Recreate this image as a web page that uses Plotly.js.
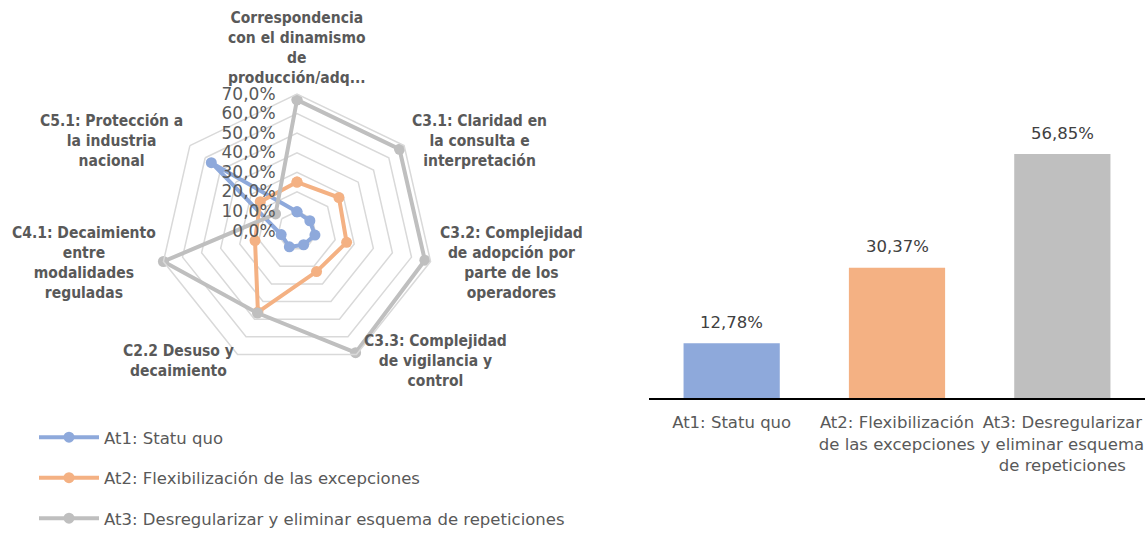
<!DOCTYPE html>
<html>
<head>
<meta charset="utf-8">
<script src="https://cdn.plot.ly/plotly-3.0.1.min.js"></script>
<style>html,body{margin:0;padding:0;background:#fff}#chart{width:1147px;height:534px}</style>
</head>
<body>
<div id="chart"></div>
<script>
// ---- data ----
var criteria = [
  "Correspondencia<br>con el dinamismo<br>de<br>producción/adq...",
  "C3.1: Claridad en<br>la consulta e<br>interpretación",
  "C3.2: Complejidad<br>de adopción por<br>parte de los<br>operadores",
  "C3.3: Complejidad<br>de vigilancia y<br>control",
  "C2.2 Desuso y<br>decaimiento",
  "C4.1: Decaimiento<br>entre<br>modalidades<br>reguladas",
  "C5.1: Protección a<br>la industria<br>nacional"
];
var criteriaKeys = ["C1", "C3.1", "C3.2", "C3.3", "C2.2", "C4.1", "C5.1"];
var seriesNames = ["At1: Statu quo", "At2: Flexibilización de las excepciones", "At3: Desregularizar y eliminar esquema de repeticiones"];
var at1 = [9.8, 8.4, 9.4, 7.8, 9.0, 8.3, 56.0];
var at2 = [25.0, 27.4, 26.0, 23.0, 46.0, 22.0, 24.0];
var at3 = [67.0, 67.0, 67.0, 69.0, 46.5, 70.0, 14.0];
var barLabels = ["At1: Statu quo", "At2: Flexibilización<br>de las excepciones", "At3: Desregularizar<br>y eliminar esquema<br>de repeticiones"];
var barValues = [12.78, 30.37, 56.85];
var colors = ["#8EA9DB", "#F4B183", "#BFBFBF"];

// ---- layout helpers ----
var W = 1147, H = 534;
var FONT = "DejaVu Sans, Liberation Sans, sans-serif";
var BFONT = "DejaVu Sans Condensed, DejaVu Sans, sans-serif";
function px(x){ return x / W; }
function py(y){ return 1 - y / H; }

var radarSeries = [at1, at2, at3];
var traces = radarSeries.map(function(vals, i){
  return {
    type: "scatterpolar",
    r: vals.concat([vals[0]]),
    theta: criteriaKeys.concat([criteriaKeys[0]]),
    name: seriesNames[i],
    mode: "lines+markers",
    line: {color: colors[i], width: 4},
    marker: {color: colors[i], size: 11},
    subplot: "polar",
    legendgroup: "g" + i,
    hoverinfo: "skip"
  };
});

traces.push({
  type: "bar",
  x: barLabels,
  y: barValues,
  marker: {color: colors},
  xaxis: "x2",
  yaxis: "y2",
  showlegend: false,
  hoverinfo: "skip"
});

// label positions (pixel centres) for the radar category labels
var labelPos = [
  [297, 48], [480, 141], [511, 263], [435, 361], [178, 361], [84, 263], [111, 141]
];
var annotations = criteria.map(function(t, i){
  return {
    text: t, xref: "paper", yref: "paper",
    x: px(labelPos[i][0]), y: py(labelPos[i][1]),
    xanchor: "center", yanchor: "middle", align: "center", showarrow: false,
    font: {family: BFONT, size: 15.5, color: "#595959", weight: "bold"}
  };
});
barValues.forEach(function(v, i){
  annotations.push({
    text: v.toFixed(2).replace(".", ",") + "%",
    xref: "x2", yref: "y2", x: barLabels[i], y: v,
    yanchor: "middle", yshift: 21, showarrow: false,
    font: {family: FONT, size: 16.5, color: "#404040"}
  });
});

var cx = 297, cy = 231, R = 137;
var layout = {
  width: W, height: H,
  margin: {l: 0, r: 0, t: 0, b: 0, autoexpand: false},
  paper_bgcolor: "#fff", plot_bgcolor: "#fff",
  separators: ",.",
  font: {family: FONT, color: "#595959", size: 16.5},
  showlegend: true,
  legend: {
    x: px(34), y: py(420), xanchor: "left", yanchor: "top",
    orientation: "v", traceorder: "grouped", tracegroupgap: 16,
    itemwidth: 60, font: {family: FONT, size: 16.5, color: "#595959"},
    bgcolor: "rgba(0,0,0,0)"
  },
  polar: {
    domain: {x: [px(cx - R), px(cx + R)], y: [py(cy + R), py(cy - R)]},
    gridshape: "linear",
    bgcolor: "#fff",
    angularaxis: {
      type: "category", categoryarray: criteriaKeys, rotation: 90, direction: "clockwise",
      showgrid: false, showline: true, linecolor: "#D9D9D9", linewidth: 1.5,
      ticks: "", showticklabels: false
    },
    radialaxis: {
      range: [0, 70], dtick: 10, tick0: 0, angle: 90, tickangle: 90,
      side: "counterclockwise",
      showline: false, ticks: "outside", ticklen: 15, tickcolor: "rgba(0,0,0,0)",
      gridcolor: "#D9D9D9", gridwidth: 1.5,
      tickformat: ".1f", ticksuffix: "%",
      tickfont: {family: FONT, size: 17, color: "#595959"}
    }
  },
  xaxis2: {
    domain: [px(649), px(1145)], anchor: "y2", type: "category",
    showline: true, linecolor: "#000", linewidth: 1.5, ticks: "", showgrid: false,
    tickfont: {family: FONT, size: 16.5, color: "#595959"}, ticklabelstandoff: 9,
    fixedrange: true
  },
  yaxis2: {
    domain: [py(398), py(398 - 60 * 4.29)], anchor: "x2", range: [0, 60],
    visible: false, fixedrange: true
  },
  bargap: 0.418,
  annotations: annotations
};

Plotly.newPlot("chart", traces, layout, {displayModeBar: false, staticPlot: true});
</script>
</body>
</html>
